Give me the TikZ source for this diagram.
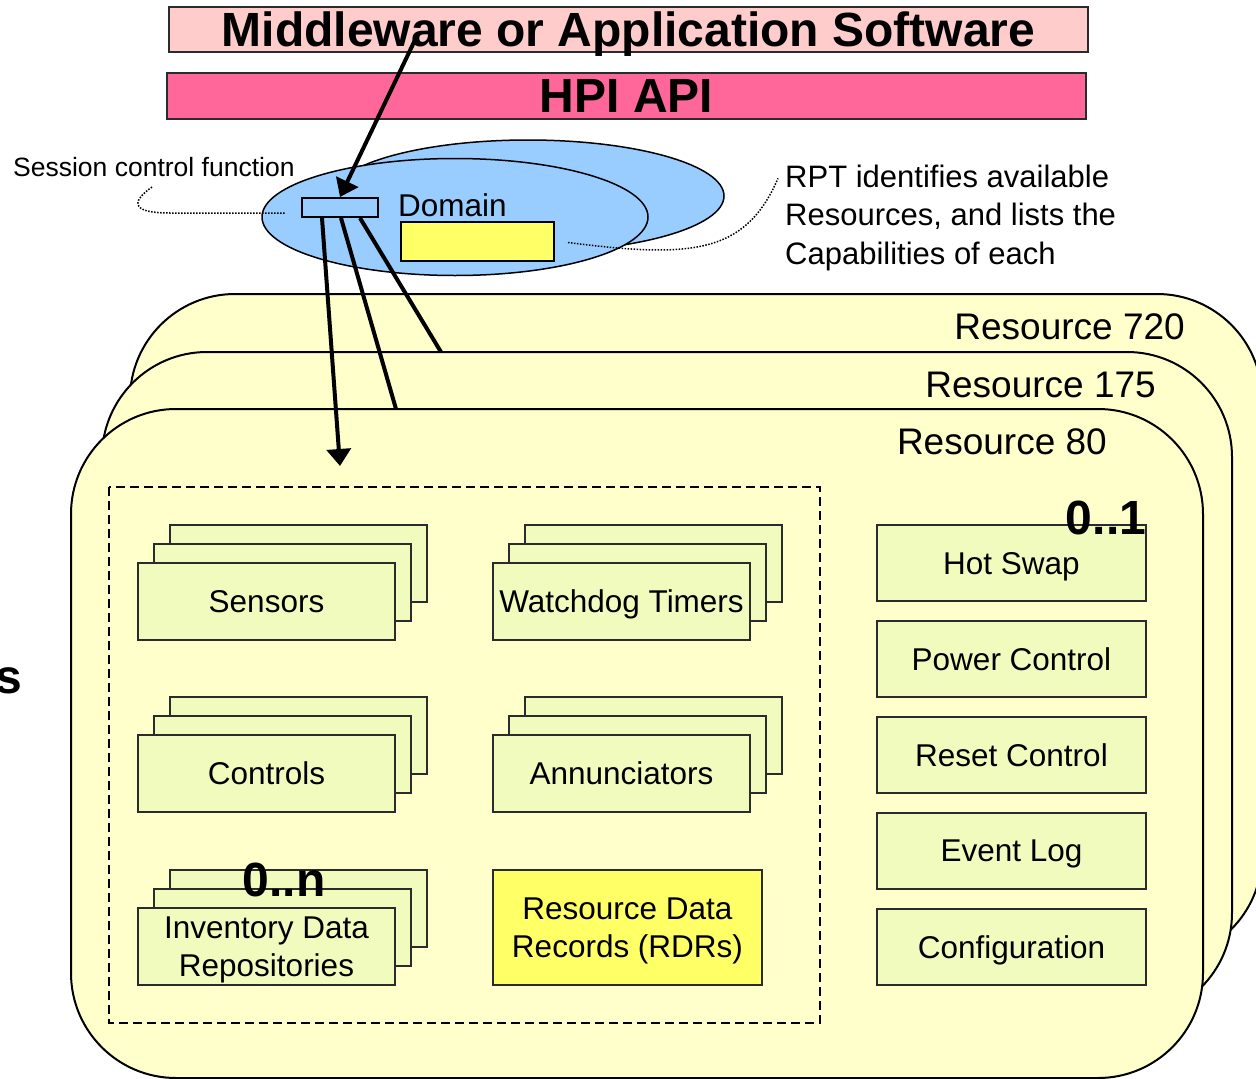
\documentclass[tikz,border=0pt]{standalone}
\usepackage{fontspec}
\setmainfont{Liberation Sans}
\usetikzlibrary{arrows.meta,positioning,calc}

\definecolor{resfill}{HTML}{FFFFCC}
\definecolor{cardfill}{HTML}{F2FBBE}
\definecolor{cardline}{HTML}{2B2B2B}
\definecolor{rdrfill}{HTML}{FFFF66}
\definecolor{domfill}{HTML}{99CCFF}
\definecolor{appfill}{HTML}{FFCCCC}
\definecolor{apifill}{HTML}{FF6699}

\begin{document}
\begin{tikzpicture}[x=1pt, y=-1pt,
    resbox/.style={draw, line width=2pt, fill=resfill, rounded corners=105pt, inner sep=0pt},
    reslbl/.style={anchor=east, inner sep=0pt, font=\fontsize{37}{40}\selectfont},
    card/.style={draw=cardline, line width=2pt, fill=cardfill, minimum width=257pt, minimum height=77pt, inner sep=0pt, text depth=0pt, align=center, font=\fontsize{31.5}{38}\selectfont},
    capbox/.style={card, minimum width=269pt, minimum height=76pt},
    band/.style={draw=cardline, line width=1.5pt, minimum width=919pt, minimum height=45pt, inner sep=0pt, text depth=0pt, font=\fontsize{48}{52}\selectfont\bfseries},
    multlbl/.style={inner sep=0pt, font=\fontsize{48}{52}\selectfont\bfseries},
    leadline/.style={line width=4pt},
    leadtip/.style={leadline, -{Triangle[length=17pt,width=24pt]}},
    notepath/.style={line width=1.5pt, dash pattern=on 1.5pt off 1.5pt},
  ]
  \useasboundingbox (0,0) rectangle (1256,1079);

  % Draw software layers
  \node[band, fill=appfill] (app) at (628.5,29.5) {Middleware or Application Software};
  \node[band, fill=apifill, minimum height=46pt] (api) at (626.5,96) {HPI API};

  % Draw domain
  \draw[line width=1.5pt, fill=domfill] (528,196) ellipse [x radius=196, y radius=56];
  \draw[line width=1.5pt, fill=domfill] (455,217) ellipse [x radius=193, y radius=58.5];
  \node[draw, line width=2pt, fill=domfill, minimum width=76pt, minimum height=19pt, inner sep=0pt] (sess) at (340,207.5) {};
  \node[draw, line width=2pt, fill=rdrfill, minimum width=153pt, minimum height=39pt, inner sep=0pt] (rpt) at (477.5,241.5) {};
  \node[anchor=west, inner sep=0pt, font=\fontsize{31.5}{36}\selectfont] (domlbl) at (398,205) {Domain};

  % Label notes
  \node[anchor=west, inner sep=0pt, font=\fontsize{26.5}{30}\selectfont] (sesslbl) at (13,167) {Session control function};
  \node[anchor=west, inner sep=0pt, align=left, font=\fontsize{31}{38.5}\selectfont] (rptlbl) at (785,217.5) {RPT identifies available\\Resources, and lists the\\Capabilities of each};
  \coordinate (sessfoot) at (152,187);
  \coordinate (sessend) at (285,213);
  \draw[notepath] (sessfoot) .. controls (128,204) and (135,213) .. (170,213) -- (sessend);
  \draw[notepath] ($(rpt.east)+(13,1)$) .. controls (690,258) and (745,255) .. ($(rptlbl.north west)+(-7,14)$);

  % Draw resources
  \node[resbox, minimum width=1132pt, minimum height=666pt] (r720) at (696,627) {};
  \node[resbox, minimum width=1130pt, minimum height=666pt] (r175) at (667,685) {};
  \node[resbox, minimum width=1132pt, minimum height=669pt] (r80) at (637,743.5) {};
  \node[reslbl] (l720) at (1185,327) {Resource 720};
  \node[reslbl] (l175) at (1156,385) {Resource 175};
  \node[reslbl] (l80) at (1107,442) {Resource 80};

  % Define points
  \coordinate (mwfoot) at (415,40);
  \coordinate (hit175) at (441,352);
  \coordinate (hit80) at (396,409);
  \coordinate (drop) at (340,466);

  % Draw paths
  \draw[leadtip] (mwfoot) -- (sess.north);
  \draw[leadline] ([xshift=20pt]sess.south) -- (hit175);
  \draw[leadline] ([xshift=1pt]sess.south) -- (hit80);
  \draw[leadtip] ([xshift=-18pt]sess.south) -- (drop);

  % Draw capability area
  \draw[line width=2pt, dash pattern=on 9pt off 5pt] (109,487) rectangle (820,1023);

  % Stacked cards
  \foreach \nm/\cx/\cy/\txt in {sensors/266.5/601.5/Sensors, wdt/621.5/601.5/Watchdog Timers,
      controls/266.5/773.5/Controls, ann/621.5/773.5/Annunciators,
      inv/266.5/946.5/{Inventory Data\\Repositories}} {
    \foreach \k in {2,1}
      \node[card] (\nm-\k) at (\cx+16*\k,\cy-19*\k) {};
    \node[card] (\nm) at (\cx,\cy) {\txt};
  }
  \node[card, fill=rdrfill, minimum width=269pt, minimum height=115pt] (rdr) at (627.5,927.5) {Resource Data\\Records (RDRs)};

  % Single capabilities
  \foreach \nm/\cy/\txt in {hotswap/563/Hot Swap, power/659/Power Control, reset/755/Reset Control,
      evlog/851/Event Log, config/947/Configuration}
    \node[capbox] (\nm) at (1011.5,\cy) {\txt};

  % Label multiplicities
  \node[multlbl] (m01) at (1106,518) {0..1};
  \node[multlbl] (m0n) at (284,880) {0..n};
  \node[multlbl, anchor=base east] (cut) at (22,693) {s};
\end{tikzpicture}
\end{document}
